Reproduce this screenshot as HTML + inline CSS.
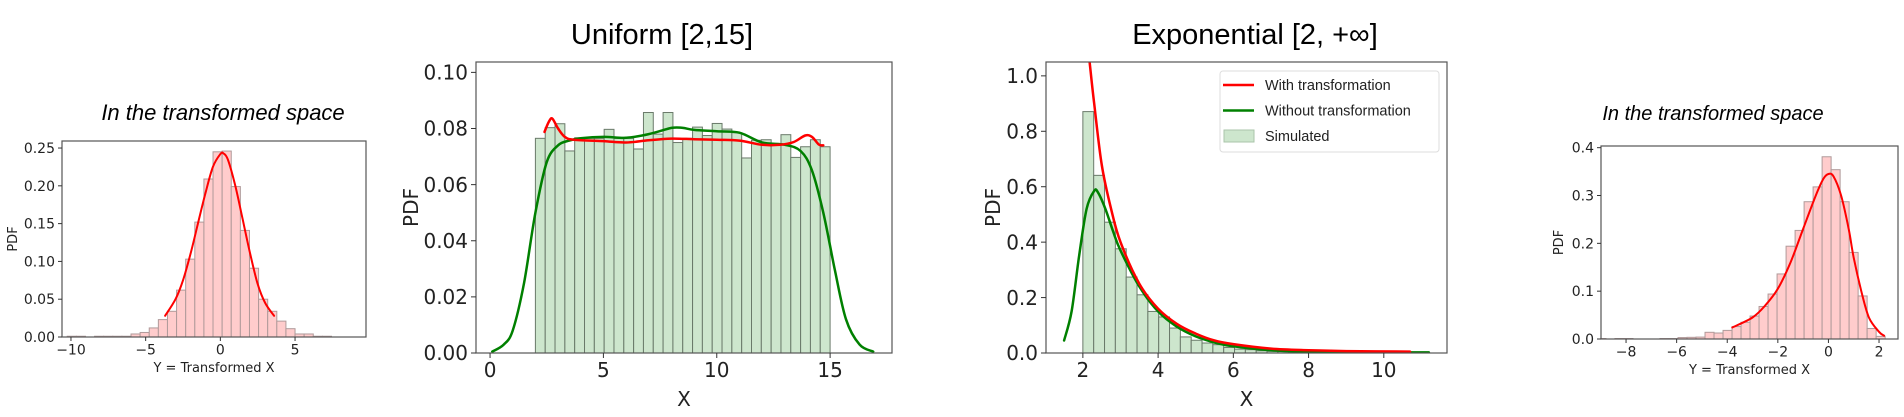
<!DOCTYPE html>
<html><head><meta charset="utf-8"><style>
html,body{margin:0;padding:0;background:#fff;}
svg{display:block;font-family:"DejaVu Sans","Liberation Sans",sans-serif;}
</style></head><body>
<svg id="fig" width="1904" height="417" viewBox="0 0 1904 417">
<text x="223" y="120" font-size="22" font-style="italic" text-anchor="middle" font-family="Liberation Sans, sans-serif">In the transformed space</text>
<text x="662" y="44" font-size="29" text-anchor="middle" font-family="Liberation Sans, sans-serif">Uniform [2,15]</text>
<text x="1255" y="44" font-size="29" text-anchor="middle" font-family="Liberation Sans, sans-serif">Exponential [2, +∞]</text>
<text x="1713" y="120" font-size="20" font-style="italic" text-anchor="middle" font-family="Liberation Sans, sans-serif">In the transformed space</text>
</svg>
<script>
// ---- Panel 1 data (transformed uniform) ----
const p1BinStart = -10.25;
const p1BinWidth = 0.61;
const p1Bars = [0.001,0.001,0.0,0.001,0.001,0.001,0.001,0.004,0.006,0.012,0.023,0.034,0.062,0.103,0.152,0.209,0.245,0.246,0.199,0.141,0.091,0.050,0.034,0.021,0.011,0.004,0.004,0.001,0.001];
const p1CurveX = [-3.7,-3,-2.5,-2,-1.5,-1,-0.5,0,0.2,0.5,1,1.5,2,2.5,3,3.6];
const p1CurveY = [0.028,0.05,0.075,0.11,0.15,0.19,0.225,0.242,0.243,0.235,0.2,0.155,0.11,0.07,0.045,0.028];
const p1XTicks = [-10,-5,0,5];
const p1YTicks = [0,0.05,0.10,0.15,0.20,0.25];
const p1YTickLabels = ["0.00","0.05","0.10","0.15","0.20","0.25"];

// ---- Panel 2 data (uniform) ----
const p2BinStart = 2;
const p2BinWidth = 0.4333;
const p2Bars = [0.0765,0.0803,0.0817,0.072,0.0767,0.0765,0.0765,0.0797,0.0765,0.0765,0.0727,0.0857,0.078,0.0857,0.075,0.0765,0.0805,0.0775,0.0818,0.0798,0.0785,0.0695,0.0758,0.076,0.0742,0.0778,0.0697,0.0735,0.0760,0.0735];
const p2GreenX = [0.1,0.6,1,1.5,2,2.5,3,3.5,4,5,6,7,8,8.5,9,10,11,12,13,13.7,14.2,14.7,15.2,15.7,16.3,16.9];
const p2GreenY = [0.0005,0.003,0.008,0.025,0.05,0.068,0.074,0.0757,0.0765,0.077,0.0767,0.078,0.0802,0.0802,0.0795,0.079,0.0785,0.075,0.0742,0.072,0.065,0.05,0.03,0.012,0.003,0.0005];
const p2RedX = [2.4,2.6,2.75,3.0,3.3,3.7,5,6,7,8,9,10,11,12,12.8,13.4,13.9,14.2,14.5,14.7];
const p2RedY = [0.0788,0.0825,0.0835,0.080,0.077,0.076,0.0755,0.075,0.0758,0.0764,0.0762,0.076,0.0757,0.0742,0.0742,0.0752,0.0775,0.077,0.0743,0.074];
const p2XTicks = [0,5,10,15];
const p2YTicks = [0,0.02,0.04,0.06,0.08,0.10];
const p2YTickLabels = ["0.00","0.02","0.04","0.06","0.08","0.10"];

// ---- Panel 3 data (exponential) ----
const p3BinStart = 2;
const p3BinWidth = 0.288;
const p3Bars = [0.871,0.641,0.472,0.376,0.274,0.210,0.150,0.130,0.090,0.058,0.046,0.036,0.030,0.020,0.014,0.012,0.008,0.006,0.005,0.004,0.003,0.003,0.002,0.002,0.001,0.001,0.001,0.001,0.001,0.001];
const p3RedX = [2.18,2.3,2.5,2.75,3,3.5,4,4.5,5,5.5,6,7,8,9,10.7];
const p3RedY = [1.05,0.9,0.68,0.52,0.4,0.25,0.16,0.105,0.07,0.045,0.032,0.016,0.01,0.007,0.005];
const p3GreenX = [1.5,1.7,1.9,2.1,2.3,2.4,2.6,2.8,3,3.5,4,4.5,5,5.5,6,7,8,9,11.2];
const p3GreenY = [0.045,0.15,0.35,0.52,0.585,0.58,0.52,0.44,0.37,0.24,0.15,0.095,0.06,0.038,0.024,0.01,0.005,0.003,0.002];
const p3XTicks = [2,4,6,8,10];
const p3YTicks = [0,0.2,0.4,0.6,0.8,1.0];
const p3YTickLabels = ["0.0","0.2","0.4","0.6","0.8","1.0"];
const legendLabels = ["With transformation","Without transformation","Simulated"];

// ---- Panel 4 data (transformed exponential) ----
const p4BinStart = -9.15;
const p4BinWidth = 0.356;
const p4Bars = [0.001,0,0.001,0.001,0,0,0,0.001,0.001,0.003,0.0035,0.004,0.014,0.0125,0.018,0.026,0.035,0.048,0.068,0.094,0.136,0.194,0.227,0.287,0.318,0.381,0.354,0.287,0.181,0.090,0.022,0.0055];
const p4CurveX = [-3.8,-3,-2.5,-2,-1.5,-1,-0.5,-0.2,0,0.2,0.5,0.8,1,1.3,1.6,2,2.2];
const p4CurveY = [0.024,0.045,0.07,0.105,0.16,0.23,0.3,0.335,0.345,0.34,0.3,0.23,0.17,0.1,0.045,0.015,0.007];
const p4XTicks = [-8,-6,-4,-2,0,2];
const p4YTicks = [0,0.1,0.2,0.3,0.4];
const p4YTickLabels = ["0.0","0.1","0.2","0.3","0.4"];

const NS = "http://www.w3.org/2000/svg";
const svg = document.getElementById('fig');
function mk(tag, attrs, parent){
  const e = document.createElementNS(NS, tag);
  for (const k in attrs) e.setAttribute(k, attrs[k]);
  (parent||svg).appendChild(e);
  return e;
}
function fmtX(v){ return v<0 ? "\u2212"+Math.abs(v) : String(v); }
function smoothPath(pts){
  let d = 'M' + pts[0][0].toFixed(1) + ',' + pts[0][1].toFixed(1);
  for (let i = 0; i < pts.length-1; i++){
    const p0 = pts[Math.max(0,i-1)], p1 = pts[i], p2 = pts[i+1], p3 = pts[Math.min(pts.length-1,i+2)];
    const c1x = p1[0] + (p2[0]-p0[0])/6, c1y = p1[1] + (p2[1]-p0[1])/6;
    const c2x = p2[0] - (p3[0]-p1[0])/6, c2y = p2[1] - (p3[1]-p1[1])/6;
    d += ' C' + c1x.toFixed(1)+','+c1y.toFixed(1)+' '+c2x.toFixed(1)+','+c2y.toFixed(1)+' '+p2[0].toFixed(1)+','+p2[1].toFixed(1);
  }
  return d;
}

function panel(cfg){
  const g = mk('g', {});
  
  
  const sx = v => cfg.L + (v - cfg.x0) / (cfg.x1 - cfg.x0) * (cfg.R - cfg.L);
  const sy = v => cfg.B - (v - cfg.y0) / (cfg.y1 - cfg.y0) * (cfg.B - cfg.T);
  const clip = mk('clipPath', {id: cfg.name+'-clip'}, g);
  mk('rect', {x: cfg.L, y: cfg.T, width: cfg.R-cfg.L, height: cfg.B-cfg.T}, clip);
  const plot = mk('g', {'clip-path': 'url(#'+cfg.name+'-clip)'}, g);
  cfg.bars.forEach((v, i) => {
    if (v <= 0) return;
    const xa = sx(cfg.binStart + i*cfg.binWidth), xb = sx(cfg.binStart + (i+1)*cfg.binWidth);
    const r = mk('rect', {x: xa, y: sy(v), width: xb-xa, height: sy(0)-sy(v), fill: cfg.barFill, stroke: cfg.barStroke, 'stroke-width': 1}, plot);
    
    
  });
  cfg.curves.forEach(c => {
    const pts = c.xs.map((x, i) => [sx(x), sy(c.ys[i])]);
    const p = mk('path', {d: smoothPath(pts), fill: 'none', stroke: c.color, 'stroke-width': cfg.lw, 'stroke-linejoin': 'round', 'stroke-linecap': 'round'}, plot);
    
    
  });
  const frame = mk('rect', {x: cfg.L, y: cfg.T, width: cfg.R-cfg.L, height: cfg.B-cfg.T, fill: 'none', stroke: '#555', 'stroke-width': 1.2}, g);
  
  
  cfg.xTicks.forEach(t => {
    const x = sx(t);
    mk('line', {x1: x, x2: x, y1: cfg.B, y2: cfg.B+cfg.tl, stroke: '#333'}, g);
    const tx = mk('text', {x: x, y: cfg.B + cfg.tl + cfg.fs*0.95, 'font-size': cfg.fs, 'text-anchor': 'middle', fill: '#222'}, g);
    tx.textContent = fmtX(t);
    
    
  });
  cfg.yTicks.forEach((t, i) => {
    const y = sy(t);
    mk('line', {x1: cfg.L-cfg.tl, x2: cfg.L, y1: y, y2: y, stroke: '#333'}, g);
    const tx = mk('text', {x: cfg.L - cfg.tl - 3, y: y + cfg.fs*0.36, 'font-size': cfg.fs, 'text-anchor': 'end', fill: '#222'}, g);
    tx.textContent = cfg.yLabels[i];
    
    
  });
  const xl = mk('text', {x: (cfg.L+cfg.R)/2, y: cfg.xlY, 'font-size': cfg.lfs, 'text-anchor': 'middle', fill: '#222'}, g);
  xl.textContent = cfg.xlabel;
  
  
  const yl = mk('text', {x: 0, y: 0, 'font-size': cfg.lfs, 'text-anchor': 'middle', fill: '#222', transform: 'translate(' + cfg.ylX + ',' + (cfg.T+cfg.B)/2 + ') rotate(-90)'}, g);
  yl.textContent = 'PDF';
  
  
}

const pinkFill = '#ffcccc', pinkEdge = '#b09a9a';
const greenFill = '#cde6cd', greenEdge = '#6a7a6a';

panel({name:'panel-transformed-uniform', L:62, R:366, T:141, B:337, x0:-10.6, x1:9.75, y0:0, y1:0.2593,
  bars:p1Bars, binStart:p1BinStart, binWidth:p1BinWidth, barFill:pinkFill, barStroke:pinkEdge,
  curves:[{xs:p1CurveX, ys:p1CurveY, color:'#ff0000', name:'kde-curve'}], lw:2,
  xTicks:p1XTicks, yTicks:p1YTicks, yLabels:p1YTickLabels, fs:14, tl:4, lfs:13, xlabel:'Y = Transformed X', xlY:372, ylX:17});

panel({name:'panel-uniform', L:476, R:892, T:62, B:353, x0:-0.62, x1:17.73, y0:0, y1:0.1037,
  bars:p2Bars, binStart:p2BinStart, binWidth:p2BinWidth, barFill:greenFill, barStroke:greenEdge,
  curves:[{xs:p2GreenX, ys:p2GreenY, color:'#008000', name:'without-transformation-curve'},{xs:p2RedX, ys:p2RedY, color:'#ff0000', name:'with-transformation-curve'}], lw:2.5,
  xTicks:p2XTicks, yTicks:p2YTicks, yLabels:p2YTickLabels, fs:20, tl:5, lfs:20, xlabel:'X', xlY:406, ylX:418});

panel({name:'panel-exponential', L:1046, R:1447, T:62, B:353, x0:1.02, x1:11.68, y0:0, y1:1.05,
  bars:p3Bars, binStart:p3BinStart, binWidth:p3BinWidth, barFill:greenFill, barStroke:greenEdge,
  curves:[{xs:p3GreenX, ys:p3GreenY, color:'#008000', name:'without-transformation-curve'},{xs:p3RedX, ys:p3RedY, color:'#ff0000', name:'with-transformation-curve'}], lw:2.5,
  xTicks:p3XTicks, yTicks:p3YTicks, yLabels:p3YTickLabels, fs:20, tl:5, lfs:20, xlabel:'X', xlY:406, ylX:1000});

panel({name:'panel-transformed-exponential', L:1601, R:1898, T:146, B:339, x0:-8.99, x1:2.75, y0:0, y1:0.4035,
  bars:p4Bars, binStart:p4BinStart, binWidth:p4BinWidth, barFill:pinkFill, barStroke:pinkEdge,
  curves:[{xs:p4CurveX, ys:p4CurveY, color:'#ff0000', name:'kde-curve'}], lw:2,
  xTicks:p4XTicks, yTicks:p4YTicks, yLabels:p4YTickLabels, fs:14, tl:4, lfs:13, xlabel:'Y = Transformed X', xlY:374, ylX:1563});

// legend
const lg = mk('g', {});


mk('rect', {x:1220, y:71, width:219, height:81, rx:3, fill:'#fff', stroke:'#ddd', 'stroke-width':1}, lg);
const legColors = ['#ff0000','#008000'];
legendLabels.forEach((lab, i) => {
  const y = 85 + i*25.5;
  if (i < 2) {
    const l = mk('line', {x1:1223, x2:1254, y1:y, y2:y, stroke:legColors[i], 'stroke-width':2.5}, lg);
    
    
  } else {
    const r = mk('rect', {x:1224, y:y-6, width:30, height:12, fill:greenFill, stroke:'#aac4aa'}, lg);
    
    
  }
  const t = mk('text', {x:1265, y:y+5, 'font-size':14.5, fill:'#222', 'font-family':'Liberation Sans, sans-serif'}, lg);
  t.textContent = lab;
  
  
});
</script>
</body></html>
